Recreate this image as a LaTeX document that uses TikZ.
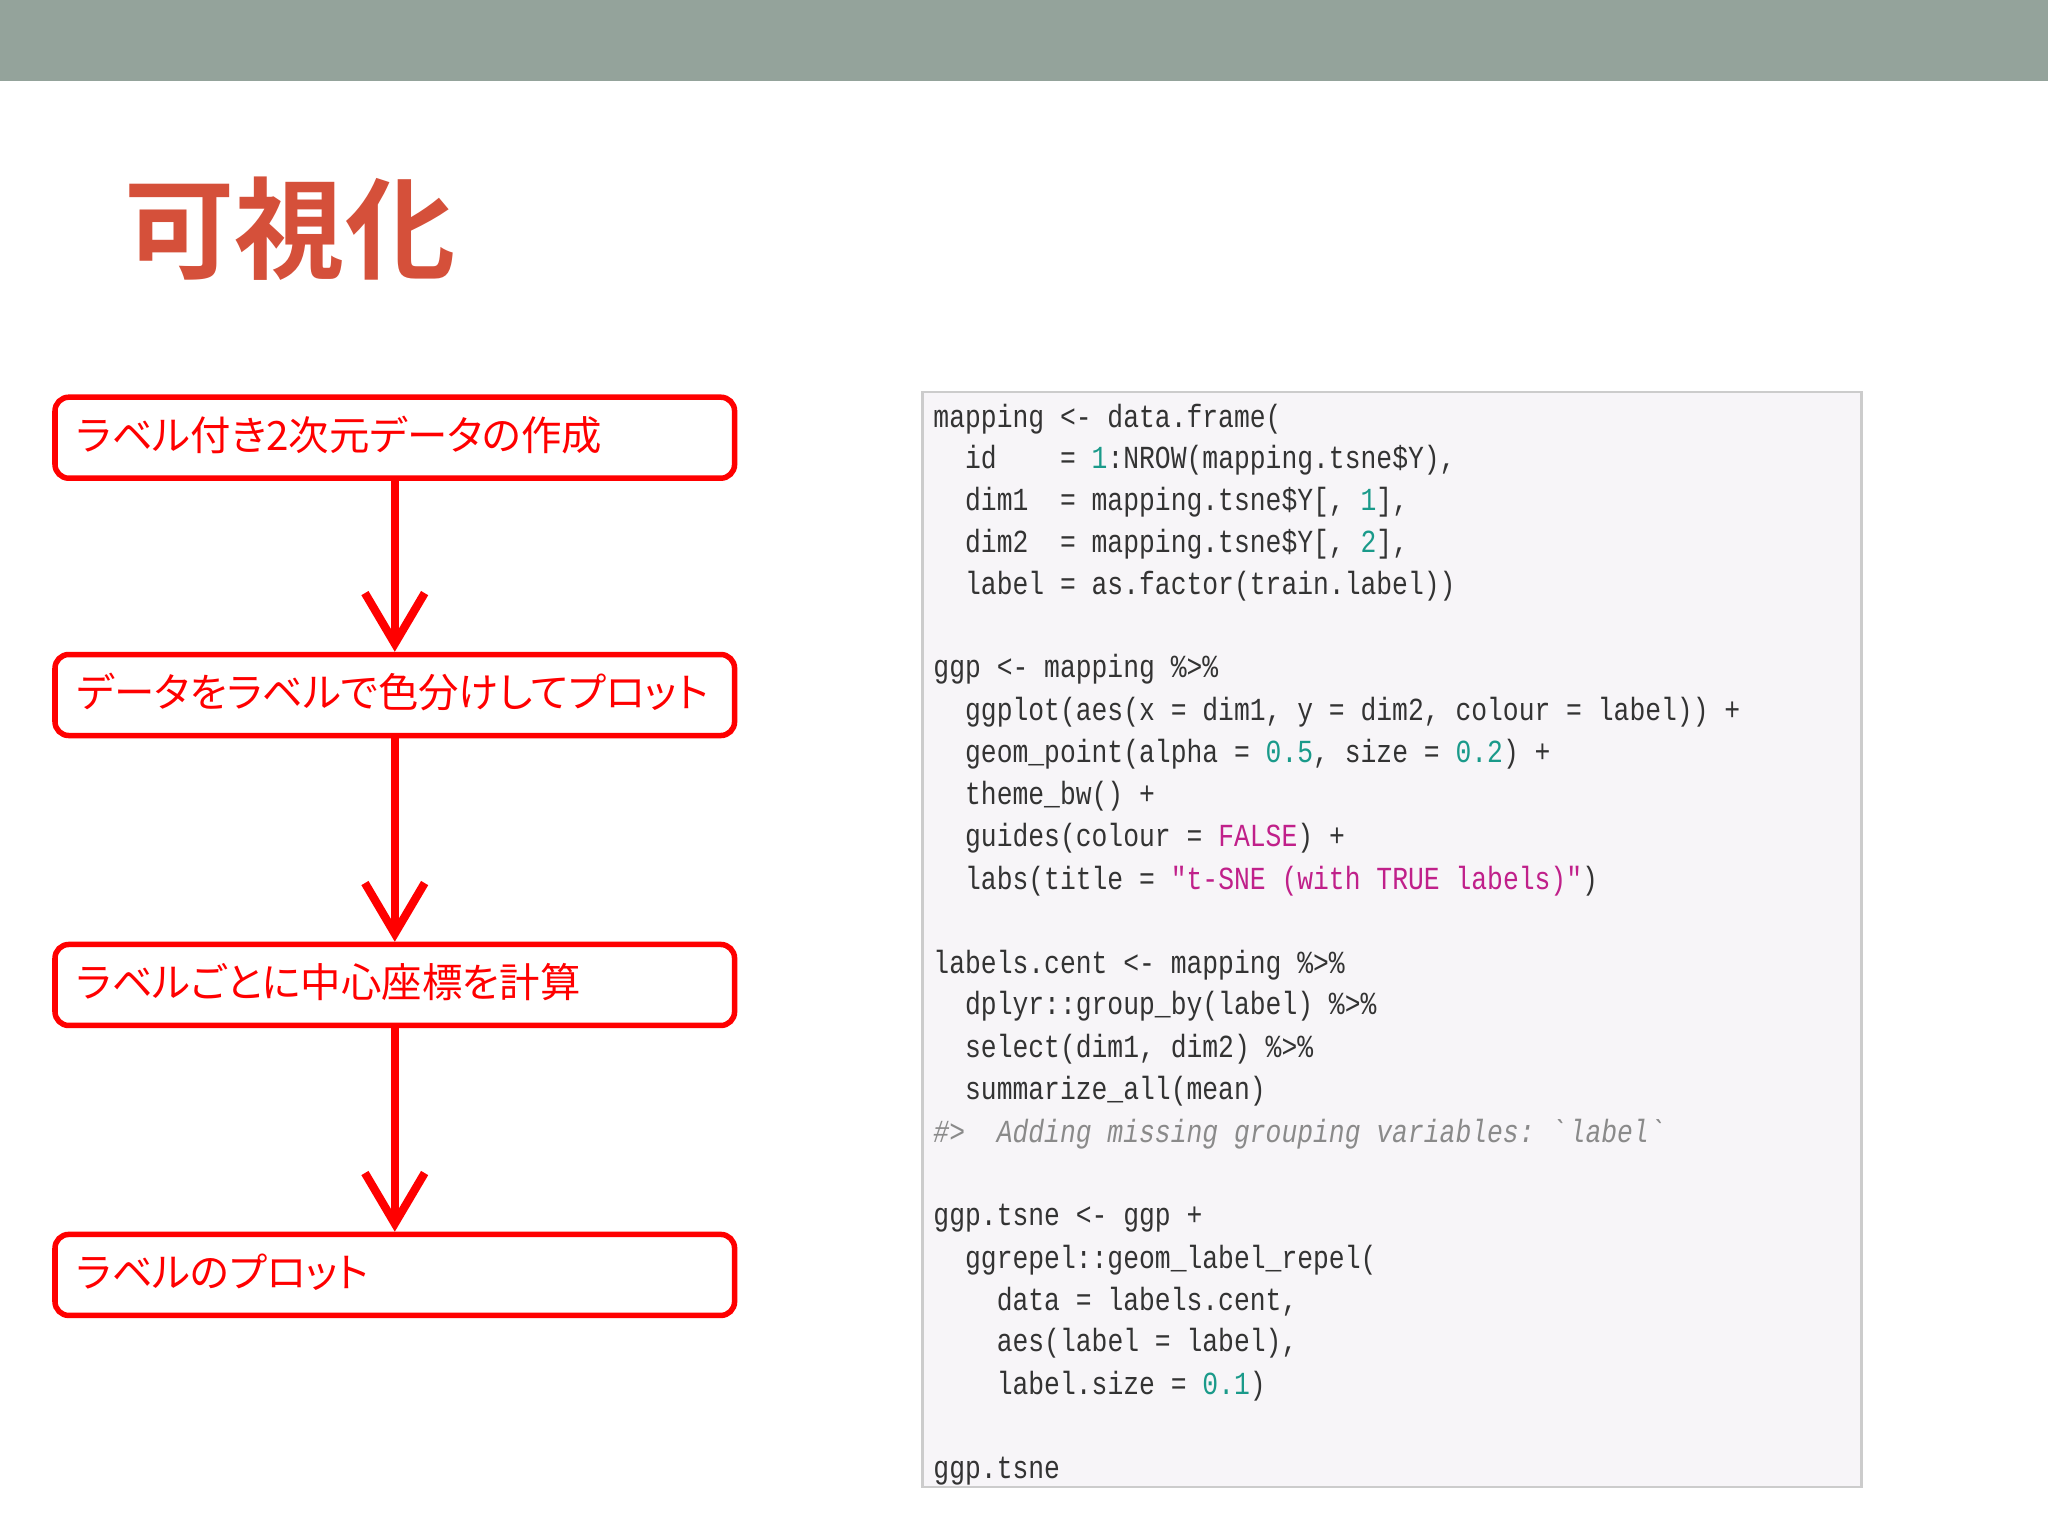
\documentclass[tikz,border=0pt]{standalone}
\usepackage{fontspec}
\usetikzlibrary{arrows.meta}
\newfontfamily\cjk[RawFeature=+palt]{Noto Sans CJK JP}
\newfontfamily\cjkb{Noto Sans CJK JP Bold}
\setmonofont[FakeStretch=0.82]{Liberation Mono}
\definecolor{bar}{HTML}{94A39B}
\definecolor{ttl}{HTML}{D5503A}
\definecolor{rd}{HTML}{FF0000}
\definecolor{codebg}{HTML}{F7F5F8}
\definecolor{num}{HTML}{1A9A8A}
\definecolor{str}{HTML}{C0208A}
\definecolor{cmt}{HTML}{8A8A8A}
\newcommand\nm[1]{\textcolor{num}{#1}}
\newcommand\sr[1]{\textcolor{str}{#1}}
\tikzset{
 x=0.01cm,y=-0.01cm,
 stepbox/.style={draw=rd,line width=1.2pt,rounded corners=3pt,minimum width=5.20cm,minimum height=0.62cm,anchor=north west,inner sep=0},
 steptext/.style={anchor=west,text=rd,font=\cjk\fontsize{8.8pt}{10pt}\selectfont,inner sep=0},
 flow/.style={draw=rd,line width=1.8pt,-{Straight Barb[length=11pt,width=13pt,line width=1.8pt]}},
 code/.style={anchor=base west,inner sep=0,font=\ttfamily\fontsize{7pt}{8pt}\selectfont,text=black!80}
}
\begin{document}
\begin{tikzpicture}
\useasboundingbox (0,0) rectangle (1568,1176);
\fill[bar] (0,0) rectangle (1568,62);
\node[text=ttl,font=\cjkb\fontsize{24pt}{28pt}\selectfont] (title) at (222,175) {可視化};
% steps
\node[stepbox] (b1) at (40,302) {};
\node[stepbox] (b2) at (40,499) {};
\node[stepbox] (b3) at (40,721) {};
\node[stepbox] (b4) at (40,943) {};
\node[steptext] (t1) at (58,333) {ラベル付き2次元データの作成};
\node[steptext] (t2) at (58,530) {データをラベルで色分けしてプロット};
\node[steptext] (t3) at (58,752) {ラベルごとに中心座標を計算};
\node[steptext] (t4) at (58,974) {ラベルのプロット};
\draw[flow] (b1.south) -- (b2.north);
\draw[flow] (b2.south) -- (b3.north);
\draw[flow] (b3.south) -- (b4.north);
% code
\node[draw=black!20,fill=codebg,line width=0.6pt,minimum width=7.19cm,minimum height=8.38cm,anchor=north west,inner sep=0] (cb) at (705,299) {};
\node[code] (c1) at (714,327) {mapping <- data.frame(};
\node[code] (c2) at (714,359) {~~id~~~~=~\nm{1}:NROW(mapping.tsne\$Y),};
\node[code] (c3) at (714,391) {~~dim1~~=~mapping.tsne\$Y[,~\nm{1}],};
\node[code] (c4) at (714,423) {~~dim2~~=~mapping.tsne\$Y[,~\nm{2}],};
\node[code] (c5) at (714,455) {~~label~=~as.factor(train.label))};
\node[code] (c6) at (714,519) {ggp <- mapping \%>\%};
\node[code] (c7) at (714,552) {~~ggplot(aes(x~=~dim1,~y~=~dim2,~colour~=~label))~+};
\node[code] (c8) at (714,584) {~~geom\_point(alpha~=~\nm{0.5},~size~=~\nm{0.2})~+};
\node[code] (c9) at (714,616) {~~theme\_bw()~+};
\node[code] (c10) at (714,648) {~~guides(colour~=~\sr{FALSE})~+};
\node[code] (c11) at (714,681) {~~labs(title~=~\sr{"t-SNE~(with~TRUE~labels)"})};
\node[code] (c12) at (714,745) {labels.cent <- mapping \%>\%};
\node[code] (c13) at (714,777) {~~dplyr::group\_by(label)~\%>\%};
\node[code] (c14) at (714,810) {~~select(dim1,~dim2)~\%>\%};
\node[code] (c15) at (714,842) {~~summarize\_all(mean)};
\node[code,text=cmt] (c16) at (714,875) {\itshape \#>~~Adding~missing~grouping~variables:~\textasciigrave label\textasciigrave};
\node[code] (c17) at (714,938) {ggp.tsne <- ggp +};
\node[code] (c18) at (714,971) {~~ggrepel::geom\_label\_repel(};
\node[code] (c19) at (714,1003) {~~~~data~=~labels.cent,};
\node[code] (c20) at (714,1035) {~~~~aes(label~=~label),};
\node[code] (c21) at (714,1068) {~~~~label.size~=~\nm{0.1})};
\node[code] (c22) at (714,1132) {ggp.tsne};
\end{tikzpicture}
\end{document}
